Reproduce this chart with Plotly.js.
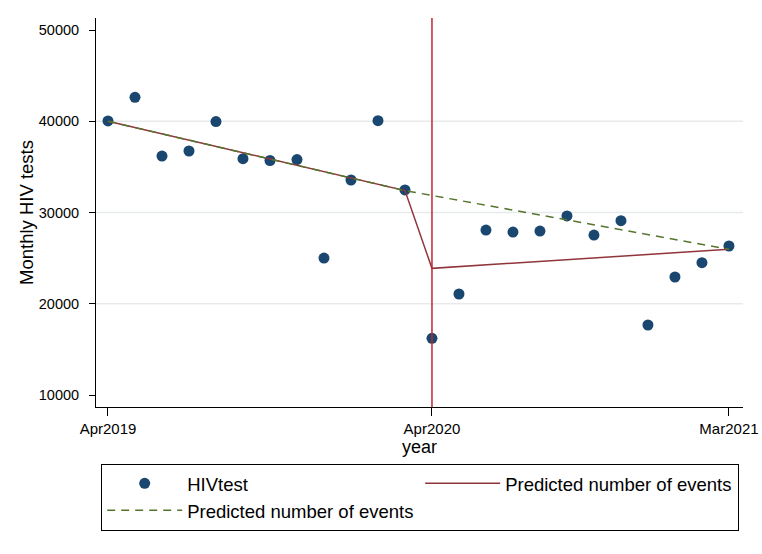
<!DOCTYPE html>
<html>
<head>
<meta charset="utf-8">
<script src="https://cdn.plot.ly/plotly-3.0.1.min.js"></script>
<style>html,body{margin:0;padding:0;background:#fff;}#chart{width:762px;height:554px;}</style>
</head>
<body>
<div id="chart"></div>
<script>
// Month index 0 = Apr2019 ... 23 = Mar2021
var months = [0,1,2,3,4,5,6,7,8,9,10,11,12,13,14,15,16,17,18,19,20,21,22,23];
var hivTests = [40030,42620,36190,36740,39970,35900,35700,35800,25010,33560,40060,32470,
                16210,21070,28080,27860,27970,29620,27530,29100,17670,22930,24500,26330];

// Predicted (segmented) line
var predMonths = [0,11,12,23];
var predValues = [40000,32400,23880,25970];

// Counterfactual predicted line (dashed)
var cfMonths = [0,11,23];
var cfValues = [40000,32400,25970];

var interruption = 12;
var tickVals = [0,12,23];
var tickText = ['Apr2019','Apr2020','Mar2021'];
var yTicks = [10000,20000,30000,40000,50000];
var gridVals = [20000,30000,40000];

var FONT = 'Liberation Sans, Arial, Helvetica, sans-serif';

var traces = [
  {x: months, y: hivTests, type: 'scatter', mode: 'markers', name: 'HIVtest',
   marker: {color: '#1a476f', size: 11}},
  {x: predMonths, y: predValues, type: 'scatter', mode: 'lines', name: 'Predicted number of events',
   line: {color: '#90353b', width: 1.5}},
  {x: cfMonths, y: cfValues, type: 'scatter', mode: 'lines', name: 'Predicted number of events',
   line: {color: '#55752f', width: 1.5, dash: '8px,6px'}}
];

var shapes = gridVals.map(function(v){
  return {type:'line', xref:'paper', x0:0, x1:1, yref:'y', y0:v, y1:v,
          line:{color:'#e6eaec', width:1.6}, layer:'below'};
});
shapes.push({type:'line', xref:'x', x0:interruption, x1:interruption, yref:'paper', y0:0, y1:1,
             line:{color:'#c0262d', width:1.5}, layer:'above'});

var layout = {
  width: 762, height: 554,
  margin: {l: 96, r: 19, t: 18, b: 147},
  paper_bgcolor: '#fff', plot_bgcolor: '#fff',
  font: {family: FONT, color: '#000', size: 15},
  showlegend: true,
  xaxis: {
    range: [-0.444, 23.52], tickvals: tickVals, ticktext: tickText,
    showgrid: false, zeroline: false, showline: true, linecolor: '#000', linewidth: 1,
    ticks: 'outside', ticklen: 8, tickcolor: '#000', tickwidth: 1,
    ticklabelstandoff: 0,
    tickfont: {size: 15, family: FONT, color: '#000'},
    title: {text: 'year', font: {size: 18, family: FONT, color: '#000'}, standoff: 1}
  },
  yaxis: {
    range: [8685, 51315], tickvals: yTicks, ticktext: yTicks.map(String),
    showgrid: false, zeroline: false, showline: true, linecolor: '#000', linewidth: 1,
    ticks: 'outside', ticklen: 6, tickcolor: '#000', tickwidth: 1,
    ticklabelstandoff: 7,
    tickfont: {size: 14.5, family: FONT, color: '#000'},
    title: {text: 'Monthly HIV tests', font: {size: 18.5, family: FONT, color: '#000'}, standoff: 0}
  },
  legend: {
    orientation: 'h', x: 0.008, xanchor: 'left', y: -0.146, yanchor: 'top',
    entrywidth: 228, itemwidth: 75, traceorder: 'normal',
    bordercolor: '#000', borderwidth: 1, bgcolor: '#fff',
    font: {size: 18.5, family: FONT, color: '#000'}
  },
  shapes: shapes
};

Plotly.newPlot('chart', traces, layout, {displayModeBar: false, staticPlot: true});
</script>
</body>
</html>
